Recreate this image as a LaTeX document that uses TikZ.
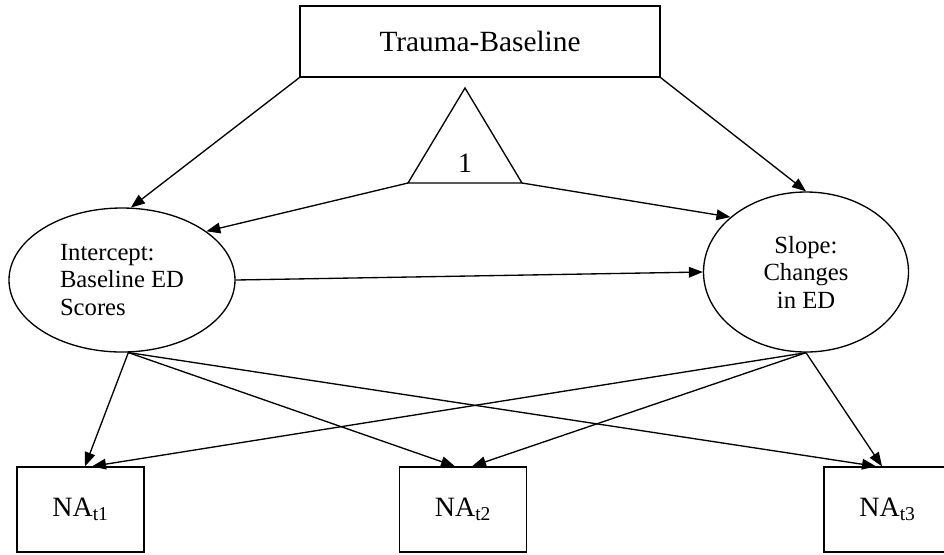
\documentclass[tikz,border=0pt]{standalone}
\usepackage{fontspec}
\setmainfont{Liberation Serif}
\usetikzlibrary{arrows.meta, calc, positioning, shapes}

\begin{document}
\begin{tikzpicture}[x=0.75pt, y=-0.75pt, line width=1pt, >={Triangle[length=10.5pt, width=8pt]},
	obs/.style={draw, rectangle, inner sep=0pt, minimum width=95.25pt, minimum height=63.75pt, font=\fontsize{21}{24}\selectfont},
	lat/.style={draw, ellipse, inner sep=0pt, font=\fontsize{18.5}{20.6}\selectfont}]
		\useasboundingbox (0,0) rectangle (944,554);
		\node[obs, minimum width=270pt, minimum height=53.25pt, font=\fontsize{22}{26}\selectfont] (trauma) at (480,41.5) {Trauma-Baseline};
		\coordinate (top) at (465,88);
		\coordinate (left) at (408,183);
		\coordinate (right) at (522,183);
		\draw (left) -- (top) -- (right) -- cycle;
		\node[font=\fontsize{21}{24}\selectfont] (one) at (465,163) {1};
		
		\node[lat, minimum width=169.5pt, minimum height=108pt, align=left] (intercept) at (122,280) {Intercept:\\Baseline ED\\Scores};
		\node[lat, minimum width=153.75pt, minimum height=120pt, align=center] (slope) at (806,272) {Slope:\\Changes\\in ED};
		
		\node[obs] (na1) at (80.5,509.5) {NA\textsubscript{t1}};
		\node[obs] (na2) at (463,509.5) {NA\textsubscript{t2}};
		\node[obs] (na3) at (887.5,509.5) {NA\textsubscript{t3}};
		
		\draw[->] (trauma.south west) -- (intercept.83);
		\draw[->] (trauma.south east) -- (slope.north);
		\draw[->] (left) -- (intercept.30);
		\draw[->] (right) -- (slope.144);
		\draw[->] (intercept.east) -- (slope.west);
		
		\draw[->] (intercept.-85) -- ($(na1.north)+(4.5,0)$);
		\draw[->] (intercept.-85) -- ($(na2.north)+(-8,0)$);
		\draw[->] (intercept.-85) -- ($(na3.north)+(-11.5,0)$);
		\draw[->] (slope.south) -- ($(na1.north)+(11.5,0)$);
		\draw[->] (slope.south) -- ($(na2.north)+(9,0)$);
		\draw[->] (slope.south) -- ($(na3.north)+(-5.5,0)$);
\end{tikzpicture}
\end{document}
